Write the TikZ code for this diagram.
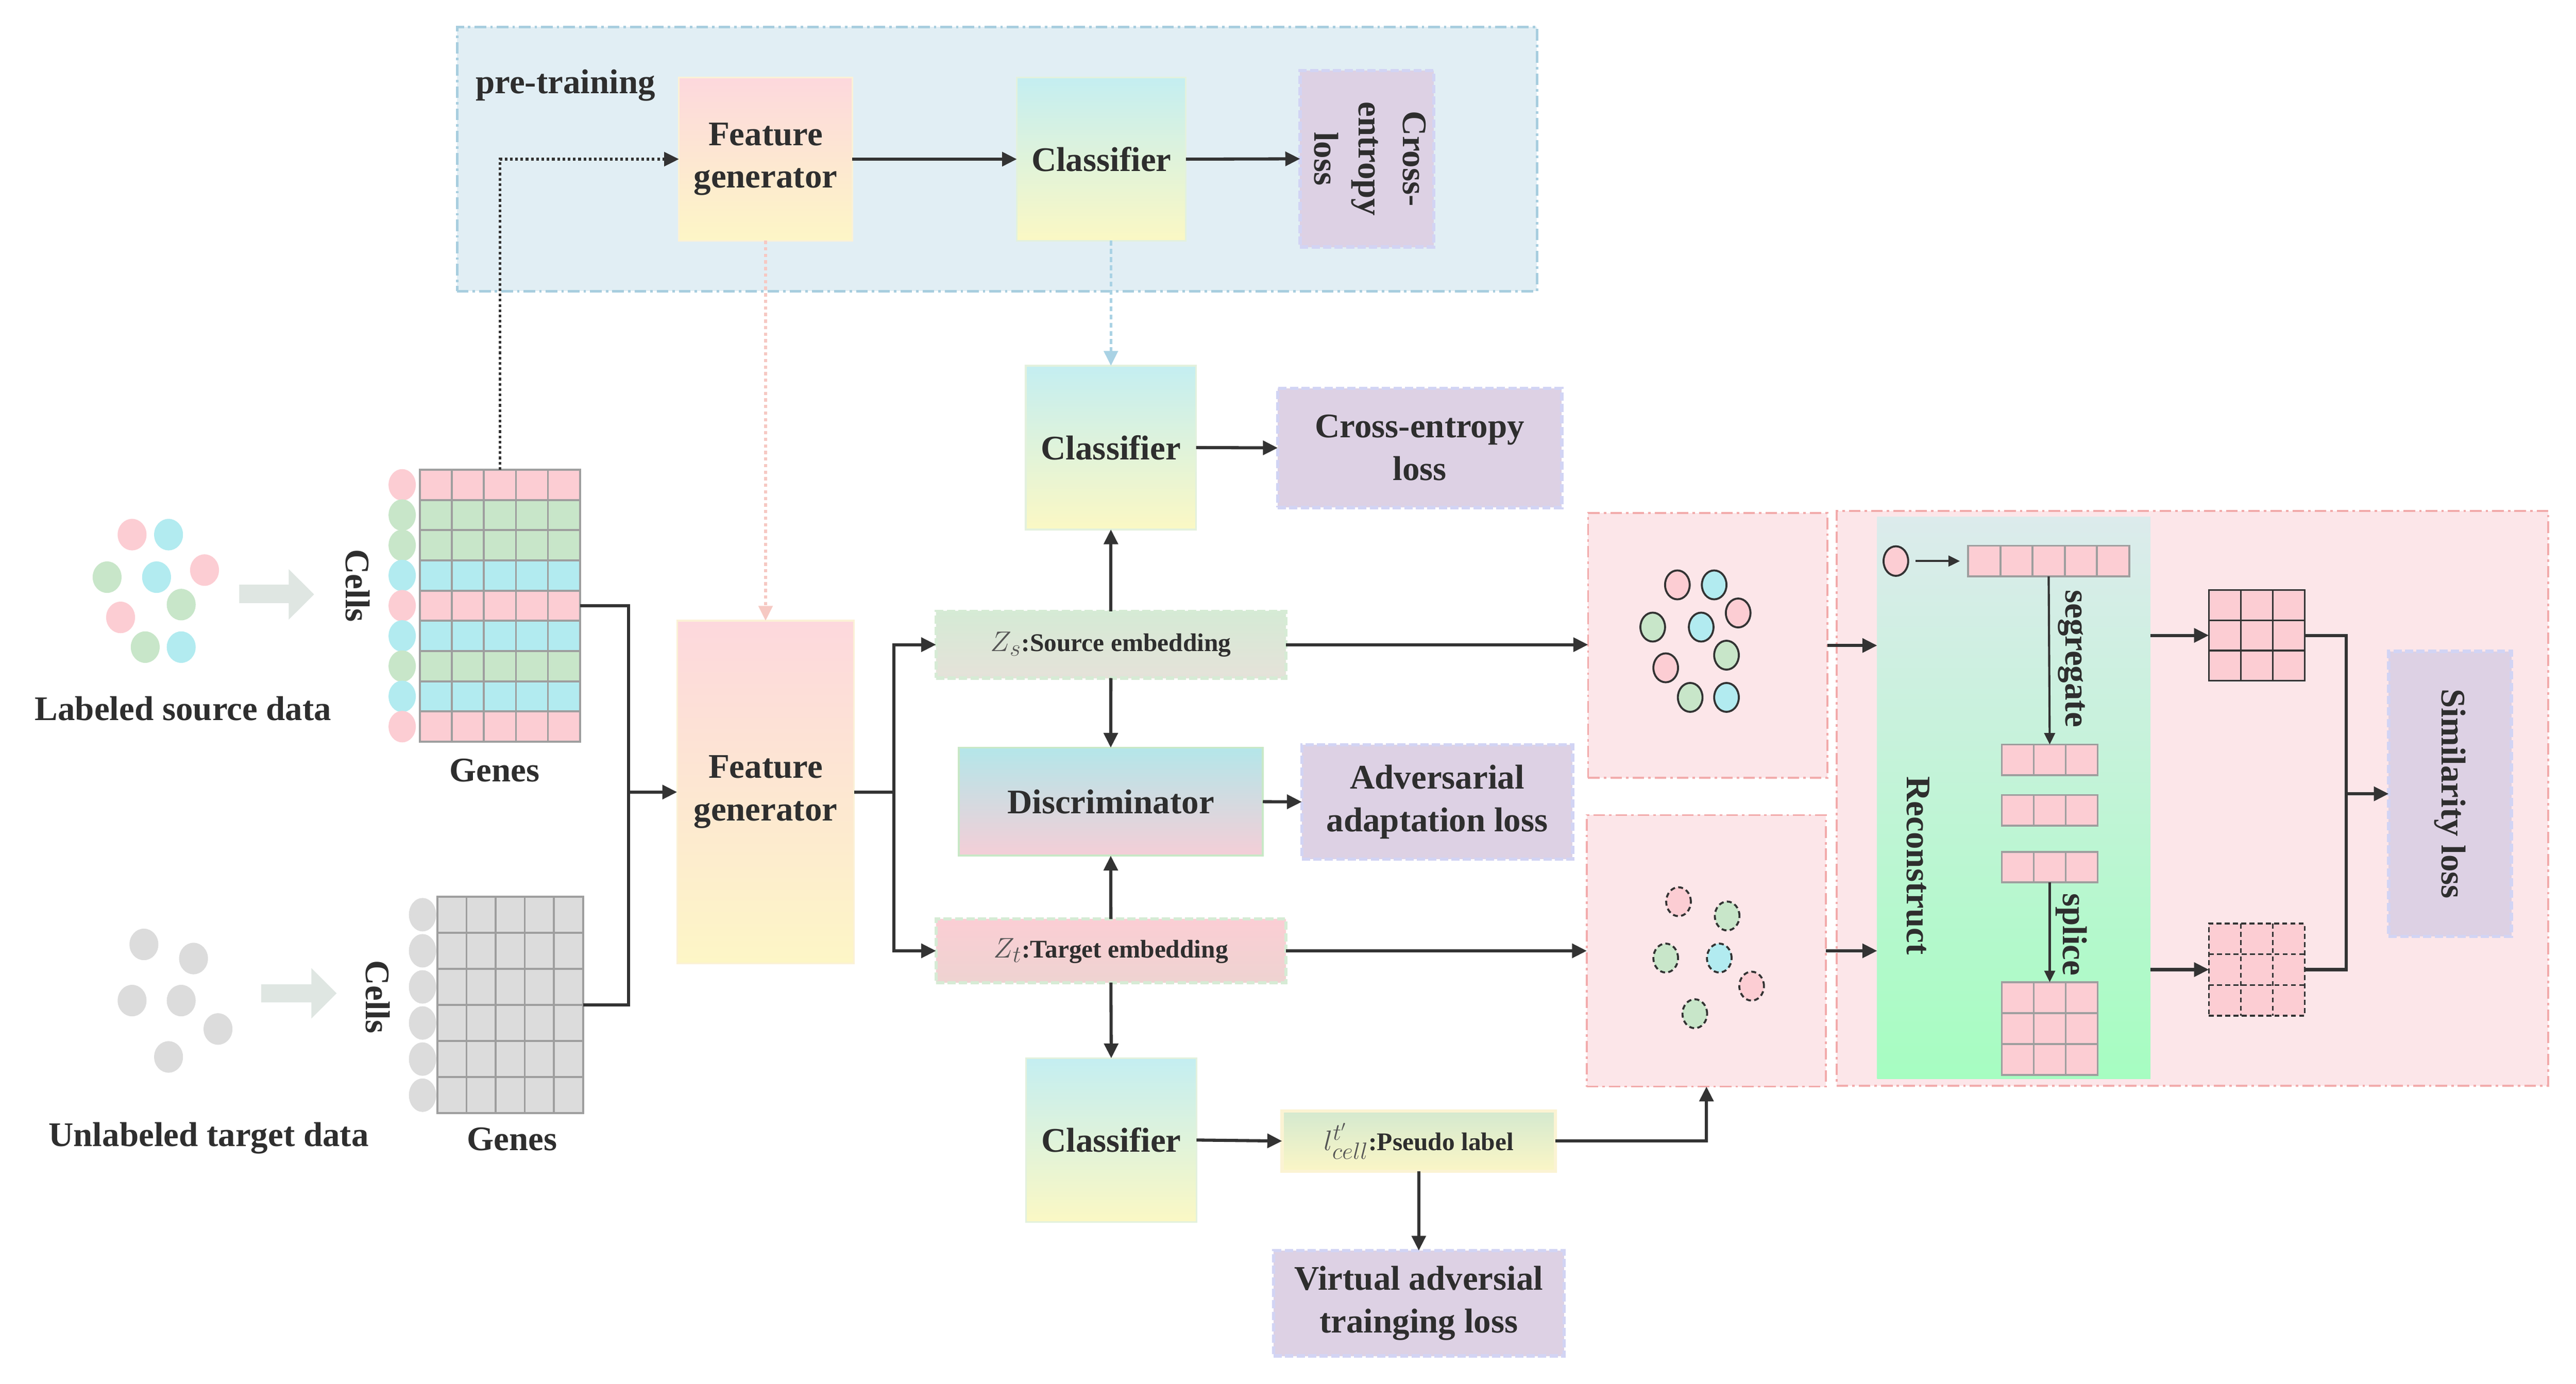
\documentclass[tikz,border=0pt]{standalone}
\usepackage{fontspec}
\setmainfont{Liberation Serif}
\usetikzlibrary{arrows.meta,calc,shapes.geometric}
\definecolor{txtc}{HTML}{2E2E2E}
\definecolor{arrc}{HTML}{333333}
\definecolor{zc}{HTML}{555555}
\definecolor{gridc}{HTML}{9E9E9E}
\definecolor{cp}{HTML}{FCCDD3}
\definecolor{cg}{HTML}{C8E6C9}
\definecolor{cc}{HTML}{B2EBF0}
\definecolor{cgr}{HTML}{DCDCDC}
\definecolor{ptfill}{HTML}{E1EEF4}
\definecolor{ptline}{HTML}{A8CEDF}
\definecolor{pkfill}{HTML}{FCE6E9}
\definecolor{pkline}{HTML}{F2ABAB}
\definecolor{lossfill}{HTML}{DDD1E4}
\definecolor{lossline}{HTML}{D2D4F4}
\definecolor{garrow}{HTML}{DFE6E2}
\definecolor{fgT}{HTML}{FDD8DD}
\definecolor{fgB}{HTML}{FDF6C6}
\definecolor{fgline}{HTML}{FBF1D6}
\definecolor{clT}{HTML}{C4EEF1}
\definecolor{clB}{HTML}{FBF8C4}
\definecolor{clline}{HTML}{E3F1DD}
\definecolor{diT}{HTML}{B4E6E9}
\definecolor{diB}{HTML}{F4CED7}
\definecolor{diline}{HTML}{C8E8C6}
\definecolor{zsT}{HTML}{D5EAD5}
\definecolor{zsB}{HTML}{E5E2D9}
\definecolor{zline}{HTML}{D6EBD5}
\definecolor{ztT}{HTML}{FBCED4}
\definecolor{ztB}{HTML}{EED3D1}
\definecolor{psT}{HTML}{D4E9CF}
\definecolor{psB}{HTML}{FBF6C6}
\definecolor{psline}{HTML}{FBF3D3}
\definecolor{reT}{HTML}{DCEBEC}
\definecolor{reB}{HTML}{A6FDC1}
\definecolor{pkdot}{HTML}{F6C9C3}
\definecolor{bldot}{HTML}{A9D2E4}
\newcommand{\cellgrid}[4]{%
  \pgfmathtruncatemacro{\gcm}{#2-1}%
  \foreach \k [evaluate=\k as \f using \k/#2] in {1,...,\gcm}
    \draw[#4] ($(#1.north west)!\f!(#1.north east)$) -- ($(#1.south west)!\f!(#1.south east)$);
  \ifnum#3>1
    \pgfmathtruncatemacro{\grm}{#3-1}%
    \foreach \k [evaluate=\k as \f using \k/#3] in {1,...,\grm}
      \draw[#4] ($(#1.north west)!\f!(#1.south west)$) -- ($(#1.north east)!\f!(#1.south east)$);
  \fi}
\newcommand{\bigmath}[1]{\textcolor{zc}{\fontsize{19}{19}\selectfont$#1$}}
\tikzset{
  T/.style={font=\fontsize{21}{26}\selectfont\bfseries, text=txtc, align=center},
  Ts/.style={font=\fontsize{15.5}{18}\selectfont\bfseries, text=txtc, align=center},
  arr/.style={draw=arrc, line width=1.9pt, -{Triangle[length=9pt,width=8.5pt]}},
  sarr/.style={draw=arrc, line width=1.3pt, -{Triangle[length=7pt,width=6.5pt]}},
  ln/.style={draw=arrc, line width=1.9pt},
  blk/.style={rectangle, inner sep=0pt, outer sep=0pt},
  lossbox/.style={blk, fill=lossfill, draw=lossline, line width=2pt, dash pattern=on 5pt off 2pt, T},
  dashdot/.style={dash pattern=on 7pt off 2.5pt on 1.5pt off 2.5pt},
  pkpanel/.style={blk, fill=pkfill, draw=pkline, line width=1.2pt, dashdot},
  gl/.style={draw=gridc, line width=1.2pt},
  dl/.style={draw=arrc, line width=1pt},
  ddl/.style={draw=arrc, line width=1pt, dash pattern=on 3pt off 2pt},
  dotl/.style={line width=1.6pt, dash pattern=on 1.6pt off 1.6pt, -{Triangle[length=9pt,width=8.5pt]}},
}
\begin{document}
\begin{tikzpicture}[x=1pt,y=-1pt]
\useasboundingbox (0,0) rectangle (1568,842.5);

% ---------------- pre-training panel ----------------
\node[blk, fill=ptfill, draw=ptline, line width=1.5pt, dashdot, minimum width=657.4pt, minimum height=160.9pt] (ptbox) at (606.9,96.85) {};
\node[T, anchor=west] (ptlabel) at (286,52) {pre-training};
\node[blk, T, top color=fgT, bottom color=fgB, draw=fgline, line width=1pt, minimum width=105.5pt, minimum height=99.2pt] (fgtop) at (466,96.9) {\raisebox{-3pt}{\parbox{100pt}{\centering Feature\\generator}}};
\node[blk, T, top color=clT, bottom color=clB, draw=clline, line width=1pt, minimum width=102.9pt, minimum height=99.2pt] (clstop) at (670.4,96.9) {Classifier};
\node[lossbox, minimum width=81.3pt, minimum height=107.4pt] (cetop) at (832,96.7) {};
\node[T, font=\fontsize{21}{27}\selectfont\bfseries, rotate=-90] (cetoptxt) at ([xshift=2pt]cetop.center) {Cross-\\entropy\\loss};

% ---------------- right panels ----------------
\node[pkpanel, minimum width=145.7pt, minimum height=161.1pt] (sbox) at (1039.5,393) {};
\node[pkpanel, minimum width=145.6pt, minimum height=165.3pt] (tbox) at (1038.7,578.9) {};
\node[pkpanel, minimum width=433pt, minimum height=350pt] (bigbox) at (1334.5,486) {};
\node[blk, top color=reT, bottom color=reB, minimum width=166.4pt, minimum height=342.1pt] (recon) at (1225.8,485.85) {};
\node[T, rotate=-90] (recontxt) at (1167.4,527) {Reconstruct};
\node[lossbox, minimum width=74.7pt, minimum height=173.5pt] (sim) at (1491.3,483.3) {};
\node[T, rotate=-90] (simtxt) at (sim.center) {Similarity loss};

% ---------------- input data ----------------
\foreach \p/\c in {{80.4,325.5}/cp,{102.6,325.5}/cc,{65.2,351.4}/cg,{95.3,351.4}/cc,{124.5,347.1}/cp,{110.3,368.1}/cg,{73.4,375.9}/cp,{88.4,394}/cg,{110.3,394}/cc}
  \fill[\c] (\p) ellipse [x radius=8.8pt, y radius=9.6pt];
\foreach \p in {{87.6,575},{117.8,583.6},{80.4,609.2},{110.3,609.2},{132.7,626.5},{102.6,643.5}}
  \fill[cgr] (\p) ellipse [x radius=8.8pt, y radius=9.6pt];
\fill[garrow] (145.6,356) -- (175.7,356) -- (175.7,346.5) -- (191.2,361.9) -- (175.7,377.3) -- (175.7,367.2) -- (145.6,367.2) -- cycle;
\fill[garrow] (159,599.3) -- (189.5,599.3) -- (189.5,589.4) -- (204.9,604.8) -- (189.5,620.2) -- (189.5,610.3) -- (159,610.3) -- cycle;
\node[T] (lsd) at (111.5,431.5) {Labeled source data};
\node[T] (utd) at (127,692.8) {Unlabeled target data};

% source grid
\foreach \c [count=\i from 0] in {cp,cg,cg,cc,cp,cc,cg,cc,cp}{
  \fill[\c] (255.6,{286+\i*18.4}) rectangle ++(97.4,18.4);
  \fill[\c] (244.8,{295.2+\i*18.4}) ellipse [x radius=8.3pt, y radius=9.6pt];
}
\node[blk, draw=gridc, line width=1.2pt, minimum width=97.4pt, minimum height=165.6pt] (sgrid) at (304.3,368.8) {};
\cellgrid{sgrid}{5}{9}{gl}
\node[T, rotate=-90] (cells1) at (217.8,356.6) {Cells};
\node[T] (genes1) at (301,469) {Genes};

% target grid
\foreach \i in {0,...,5}
  \fill[cgr] (257.2,{545.9+11+\i*21.98}) ellipse [x radius=8.3pt, y radius=10.2pt];
\node[blk, fill=cgr, draw=gridc, line width=1.2pt, minimum width=88.7pt, minimum height=131.9pt] (tgrid) at (310.55,611.85) {};
\cellgrid{tgrid}{5}{6}{gl}
\node[T, rotate=-90] (cells2) at (230,607) {Cells};
\node[T] (genes2) at (311.8,693.7) {Genes};

% ---------------- main column ----------------
\node[blk, T, top color=fgT, bottom color=fgB, draw=fgline, line width=1pt, minimum width=107.7pt, minimum height=208.7pt] (fgmain) at (466,482.25) {\raisebox{-2pt}{\parbox{100pt}{\centering Feature\\generator}}};
\node[blk, T, top color=clT, bottom color=clB, draw=clline, line width=1pt, minimum width=103.7pt, minimum height=99.7pt] (clsmid) at (676.2,272.5) {Classifier};
\node[lossbox, minimum width=172.9pt, minimum height=72.6pt] (cemid) at (864.2,272.7) {Cross-entropy\\loss};
\node[blk, Ts, top color=zsT, bottom color=zsB, draw=zline, line width=2pt, dash pattern=on 5pt off 2pt, minimum width=212.9pt, minimum height=40.7pt] (zs) at (676.2,392.5) {\bigmath{Z_s}:Source embedding};
\node[blk, T, top color=diT, bottom color=diB, draw=diline, line width=1.2pt, minimum width=185.2pt, minimum height=65.8pt] (disc) at (676.1,488.1) {Discriminator};
\node[lossbox, minimum width=164.8pt, minimum height=69.6pt] (adv) at (874.8,488.2) {Adversarial\\adaptation loss};
\node[blk, Ts, top color=ztT, bottom color=ztB, draw=zline, line width=2pt, dash pattern=on 5pt off 2pt, minimum width=212.9pt, minimum height=38.7pt] (zt) at (676.2,578.9) {\bigmath{Z_t}:Target embedding};
\node[blk, T, top color=clT, bottom color=clB, draw=clline, line width=1pt, minimum width=103.8pt, minimum height=99.6pt] (clsbot) at (676.4,694.1) {Classifier};
\node[blk, Ts, top color=psT, bottom color=psB, draw=psline, line width=2pt, minimum width=166.4pt, minimum height=36.7pt] (pseudo) at (863.6,694.7) {\bigmath{l^{t'}_{cell}}:Pseudo label};
\node[lossbox, minimum width=176.8pt, minimum height=64.2pt] (virt) at (863.6,793.5) {Virtual adversial\\trainging loss};

% ---------------- cluster circles ----------------
\foreach \p/\c in {{1021,356.1}/cp,{1043.4,356.1}/cc,{1058,373.2}/cp,{1006,381.8}/cg,{1035.5,381.8}/cc,{1050.9,398.9}/cg,{1013.9,406.6}/cp,{1028.8,424.6}/cg,{1050.9,424.6}/cc}
  \draw[arrc, line width=1.2pt, fill=\c] (\p) ellipse [x radius=7.5pt, y radius=8.8pt];
\foreach \p/\c in {{1021.7,549}/cp,{1051.3,557.7}/cg,{1013.9,583.3}/cg,{1046.5,583.3}/cc,{1066.2,600.4}/cp,{1031.6,617.2}/cg}
  \draw[arrc, line width=1.2pt, dash pattern=on 3pt off 2pt, fill=\c] (\p) ellipse [x radius=7.5pt, y radius=8.8pt];

% ---------------- reconstruct internals ----------------
\node[ellipse, draw=arrc, fill=cp, line width=1.2pt, minimum width=15pt, minimum height=18pt, inner sep=0pt] (rc) at (1154,341.6) {};
\node[blk, fill=cp, draw=gridc, line width=1.2pt, minimum width=98pt, minimum height=18.7pt] (row5) at (1247,341.6) {};
\cellgrid{row5}{5}{1}{gl}
\node[blk, fill=cp, draw=gridc, line width=1.2pt, minimum width=58.3pt, minimum height=18.7pt] (blk1) at (1247.65,462.65) {};
\cellgrid{blk1}{3}{1}{gl}
\node[blk, fill=cp, draw=gridc, line width=1.2pt, minimum width=58.3pt, minimum height=18.7pt] (blk2) at (1247.65,493.4) {};
\cellgrid{blk2}{3}{1}{gl}
\node[blk, fill=cp, draw=gridc, line width=1.2pt, minimum width=58.3pt, minimum height=18.7pt] (blk3) at (1247.65,527.95) {};
\cellgrid{blk3}{3}{1}{gl}
\node[blk, fill=cp, draw=gridc, line width=1.2pt, minimum width=58.3pt, minimum height=56.5pt] (g33) at (1247.65,626.25) {};
\cellgrid{g33}{3}{3}{gl}
\node[T, rotate=-90] (segtxt) at (1261,401) {segregate};
\node[T, rotate=-90] (spltxt) at (1261,569) {splice};
\node[blk, fill=cp, draw=arrc, line width=1pt, minimum width=58.3pt, minimum height=55.3pt] (rg1) at (1373.65,386.85) {};
\cellgrid{rg1}{3}{3}{dl}
\node[blk, fill=cp, draw=arrc, line width=1pt, dash pattern=on 3pt off 2pt, minimum width=58.3pt, minimum height=56.1pt] (rg2) at (1373.65,590.35) {};
\cellgrid{rg2}{3}{3}{ddl}

% ---------------- connectors ----------------
\draw[dotl, draw=arrc] (sgrid.north) |- (fgtop.west);
\draw[arr] (fgtop.east) -- (clstop.west);
\draw[arr] (clstop.east) -- (cetop.west);
\draw[line width=1.6pt, dash pattern=on 2pt off 2pt, draw=pkdot, -{Triangle[length=9pt,width=8.5pt]}] (fgtop.south) -- (fgmain.north);
\draw[line width=1.6pt, dash pattern=on 3pt off 2pt, draw=bldot, -{Triangle[length=9pt,width=8.5pt]}] (clstop.south -| clsmid.north) -- (clsmid.north);

\coordinate (jn) at (382.7,482.25);
\draw[ln] (sgrid.east) -| (jn) |- (tgrid.east);
\draw[arr] (jn) -- (fgmain.west);

\coordinate (jb) at (544.2,482.25);
\draw[ln] (fgmain.east) -- (jb);
\draw[arr] (jb) |- (zs.west);
\draw[arr] (jb) |- (zt.west);
\draw[arr] (zs.north) -- (clsmid.south);
\draw[arr] (zs.south) -- (disc.north);
\draw[arr] (zt.north) -- (disc.south);
\draw[arr] (zt.south) -- (clsbot.north);
\draw[arr] (clsmid.east) -- (cemid.west);
\draw[arr] (disc.east) -- (adv.west);
\draw[arr] (clsbot.east) -- (pseudo.west);
\draw[arr] (pseudo.south) -- (virt.north);
\draw[arr] (pseudo.east) -| (tbox.south);
\draw[arr] (zs.east) -- (sbox.west |- zs.east);
\draw[arr] (zt.east) -- (tbox.west |- zt.east);
\draw[arr] (sbox.east) -- (sbox.east -| recon.west);
\draw[arr] (tbox.east) -- (tbox.east -| recon.west);

\draw[sarr, shorten <=4pt, shorten >=5pt] (rc.east) -- (row5.west);
\draw[sarr] (row5.south) -- (blk1.north);
\draw[sarr] (blk3.south) -- (g33.north);

\draw[arr] (recon.east |- rg1.west) -- (rg1.west);
\draw[arr] (recon.east |- rg2.west) -- (rg2.west);
\coordinate (jr) at (1428,483.3);
\draw[ln] (rg1.east) -| (jr) |- (rg2.east);
\draw[arr] (jr) -- (sim.west);
\end{tikzpicture}
\end{document}
